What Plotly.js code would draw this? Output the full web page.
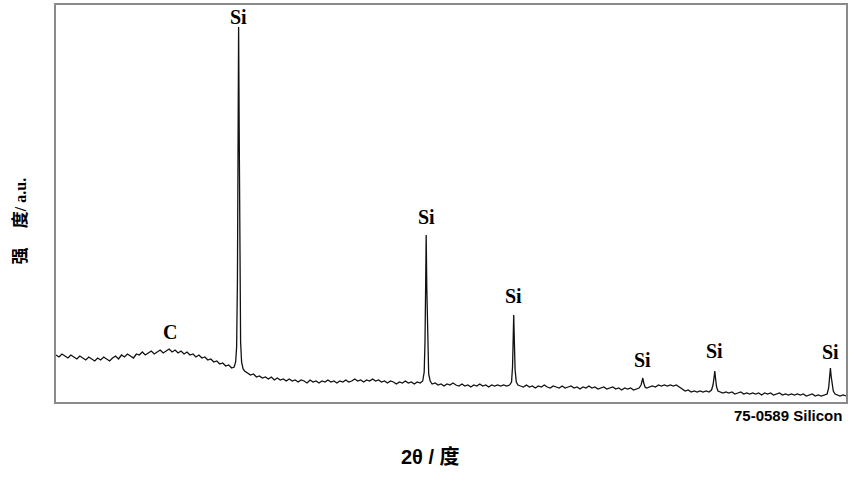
<!DOCTYPE html>
<html>
<head>
<meta charset="utf-8">
<script src="https://cdn.plot.ly/plotly-3.0.1.min.js"></script>
<style>html,body{margin:0;padding:0;background:#fff;}#chart{width:856px;height:500px;}</style>
</head>
<body>
<div id="chart"></div>
<script>
// 2θ (degrees) of the scan points
const twoTheta = [
 10.0,10.3,10.6,10.9,11.2,11.5,11.8,12.1,12.4,12.7,13.0,13.3,13.6,13.9,14.2,14.5,14.8,15.1,15.4,15.7,
 16.0,16.3,16.6,16.9,17.2,17.5,17.8,18.1,18.4,18.7,19.0,19.3,19.6,19.9,20.2,20.5,20.8,21.1,21.4,21.7,
 22.0,22.3,22.6,22.9,23.2,23.5,23.8,24.1,24.4,24.7,25.0,25.3,25.6,25.9,26.2,26.5,26.8,27.1,27.4,27.7,
 27.95,28.1,28.2,28.28,28.34,28.4,28.46,28.52,28.6,28.7,28.85,
 29.0,29.3,29.6,29.9,30.2,30.5,30.8,31.1,31.4,31.7,32.0,32.3,32.6,32.9,33.2,33.5,33.8,34.1,34.4,34.7,
 35.0,35.3,35.6,35.9,36.2,36.5,36.8,37.1,37.4,37.7,38.0,38.3,38.6,38.9,39.2,39.5,39.8,40.1,40.4,40.7,
 41.0,41.3,41.6,41.9,42.2,42.5,42.8,43.1,43.4,43.7,44.0,44.3,44.6,44.9,45.2,45.5,45.8,46.1,46.4,46.7,
 46.95,47.1,47.18,47.25,47.3,47.36,47.44,47.55,47.7,
 47.9,48.2,48.5,48.8,49.1,49.4,49.7,50.0,50.3,50.6,50.9,51.2,51.5,51.8,52.1,52.4,52.7,53.0,53.3,53.6,
 53.9,54.2,54.5,54.8,55.1,55.4,55.7,
 55.9,56.0,56.07,56.12,56.18,56.26,56.38,56.55,
 56.8,57.1,57.4,57.7,58.0,58.3,58.6,58.9,59.2,59.5,59.8,60.1,60.4,60.7,61.0,61.3,61.6,61.9,62.2,62.5,
 62.8,63.1,63.4,63.7,64.0,64.3,64.6,64.9,65.2,65.5,65.8,66.1,66.4,66.7,67.0,67.3,67.6,67.9,68.2,68.5,68.75,
 68.95,69.05,69.13,69.22,69.35,69.5,
 69.8,70.1,70.4,70.7,71.0,71.3,71.6,71.9,72.2,72.5,72.8,73.1,73.4,73.7,74.0,74.3,74.6,74.9,75.2,75.5,75.8,76.05,
 76.2,76.3,76.38,76.46,76.56,76.7,
 76.9,77.2,77.5,77.8,78.1,78.4,78.7,79.0,79.3,79.6,79.9,80.2,80.5,80.8,81.1,81.4,81.7,82.0,82.3,82.6,
 82.9,83.2,83.5,83.8,84.1,84.4,84.7,85.0,85.3,85.6,85.9,86.2,86.5,86.8,87.1,87.4,87.7,
 87.85,87.95,88.03,88.1,88.2,88.32,88.5,
 88.7,89.0,89.3,89.6
];
// intensity (a.u.)
const intensity = [
 47,45,48,46,44,47,45,43,46,44,42,45,43,41,44,42,45,43,41,44,
 46,43,47,45,48,46,44,48,47,50,47,49,51,48,50,52,49,51,53,50,
 52,49,51,48,50,47,48,45,47,44,45,42,43,40,41,38,39,36,37,34,
 35,40,55,120,260,375,270,140,60,40,33,
 31,29,27,28,25,26,24,25,23,25,22,24,22,23,21,23,21,22,20,22,
 21,19,22,20,21,19,21,20,22,20,21,19,21,20,22,20,21,23,21,22,
 20,22,21,23,21,22,20,21,19,21,20,18,20,19,21,19,20,18,20,19,
 21,30,60,120,167,115,55,28,21,
 18,19,17,18,16,18,17,19,17,16,18,16,17,15,17,16,18,16,17,15,
 17,16,17,16,17,16,17,
 20,35,65,87,62,32,20,17,
 16,15,17,15,16,14,16,15,17,15,14,16,15,14,16,14,15,16,14,15,
 13,15,14,16,14,15,13,14,15,13,14,15,13,14,12,14,13,14,12,13,14,
 17,21,24,19,15,14,
 15,16,15,17,16,17,16,17,16,17,15,13,11,12,10,11,10,11,10,11,10,12,
 17,24,31,23,15,11,
 10,9,10,9,10,8,9,10,8,9,8,9,8,9,7,9,8,9,7,8,
 9,7,8,7,8,7,8,7,8,6,7,8,6,7,6,7,8,
 14,25,34,26,17,11,8,
 7,6,7,6
];
// peak labels
const labelText = ["C","Si","Si","Si","Si","Si","Si"];
const labelX = [21.5, 28.4, 47.3, 56.12, 69.13, 76.38, 88.03];
const labelY = [70, 385, 185, 106, 42, 51, 50];

const trace = {
  x: twoTheta, y: intensity, type: 'scatter', mode: 'lines',
  line: {color: '#111', width: 1.3}, hoverinfo: 'skip'
};

const annotations = labelText.map((t, i) => ({
  x: labelX[i], y: labelY[i], xref: 'x', yref: 'y', text: t, showarrow: false,
  font: {family: 'Liberation Serif', size: 20, color: '#000', weight: 'bold'},
  xanchor: 'center', yanchor: 'middle'
}));
annotations.push({
  x: 1, y: 0, xref: 'paper', yref: 'paper', text: '<b>75-0589 Silicon</b>', showarrow: false,
  xanchor: 'right', yanchor: 'top', yshift: -3, xshift: -2,
  font: {family: 'Liberation Sans', size: 15, color: '#000'}
});
// y-axis title, placed as in the reference
annotations.push({
  x: 0, y: 0.5, xref: 'paper', yref: 'paper', xanchor: 'center', yanchor: 'middle',
  xshift: -38, yshift: -18, textangle: -90, showarrow: false,
  text: '<b><span style="font-family:\'Noto Sans CJK SC\';font-size:17px">强&nbsp;&nbsp;&nbsp;&nbsp;&nbsp;度</span>/ a.u.</b>',
  font: {family: 'Liberation Serif', size: 16, color: '#000'}
});
// x-axis title, placed as in the reference
annotations.push({
  x: 0.5, y: 0, xref: 'paper', yref: 'paper', xanchor: 'center', yanchor: 'middle',
  xshift: -21, yshift: -55, showarrow: false,
  text: '<b>2θ / 度</b>',
  font: {family: 'Liberation Sans, Noto Sans CJK SC', size: 20, color: '#000'}
});

const layout = {
  width: 856, height: 500,
  margin: {l: 56, r: 10, t: 5, b: 98},
  paper_bgcolor: '#fff', plot_bgcolor: '#fff',
  showlegend: false,
  xaxis: {
    range: [10, 89.6], showgrid: false, zeroline: false, showticklabels: false, ticks: '',
    showline: true, mirror: true, linecolor: '#8a8a8a', linewidth: 2
  },
  yaxis: {
    range: [0, 397], showgrid: false, zeroline: false, showticklabels: false, ticks: '',
    showline: true, mirror: true, linecolor: '#8a8a8a', linewidth: 2
  },
  annotations: annotations
};

Plotly.newPlot('chart', [trace], layout, {staticPlot: true, displayModeBar: false});
</script>
</body>
</html>
